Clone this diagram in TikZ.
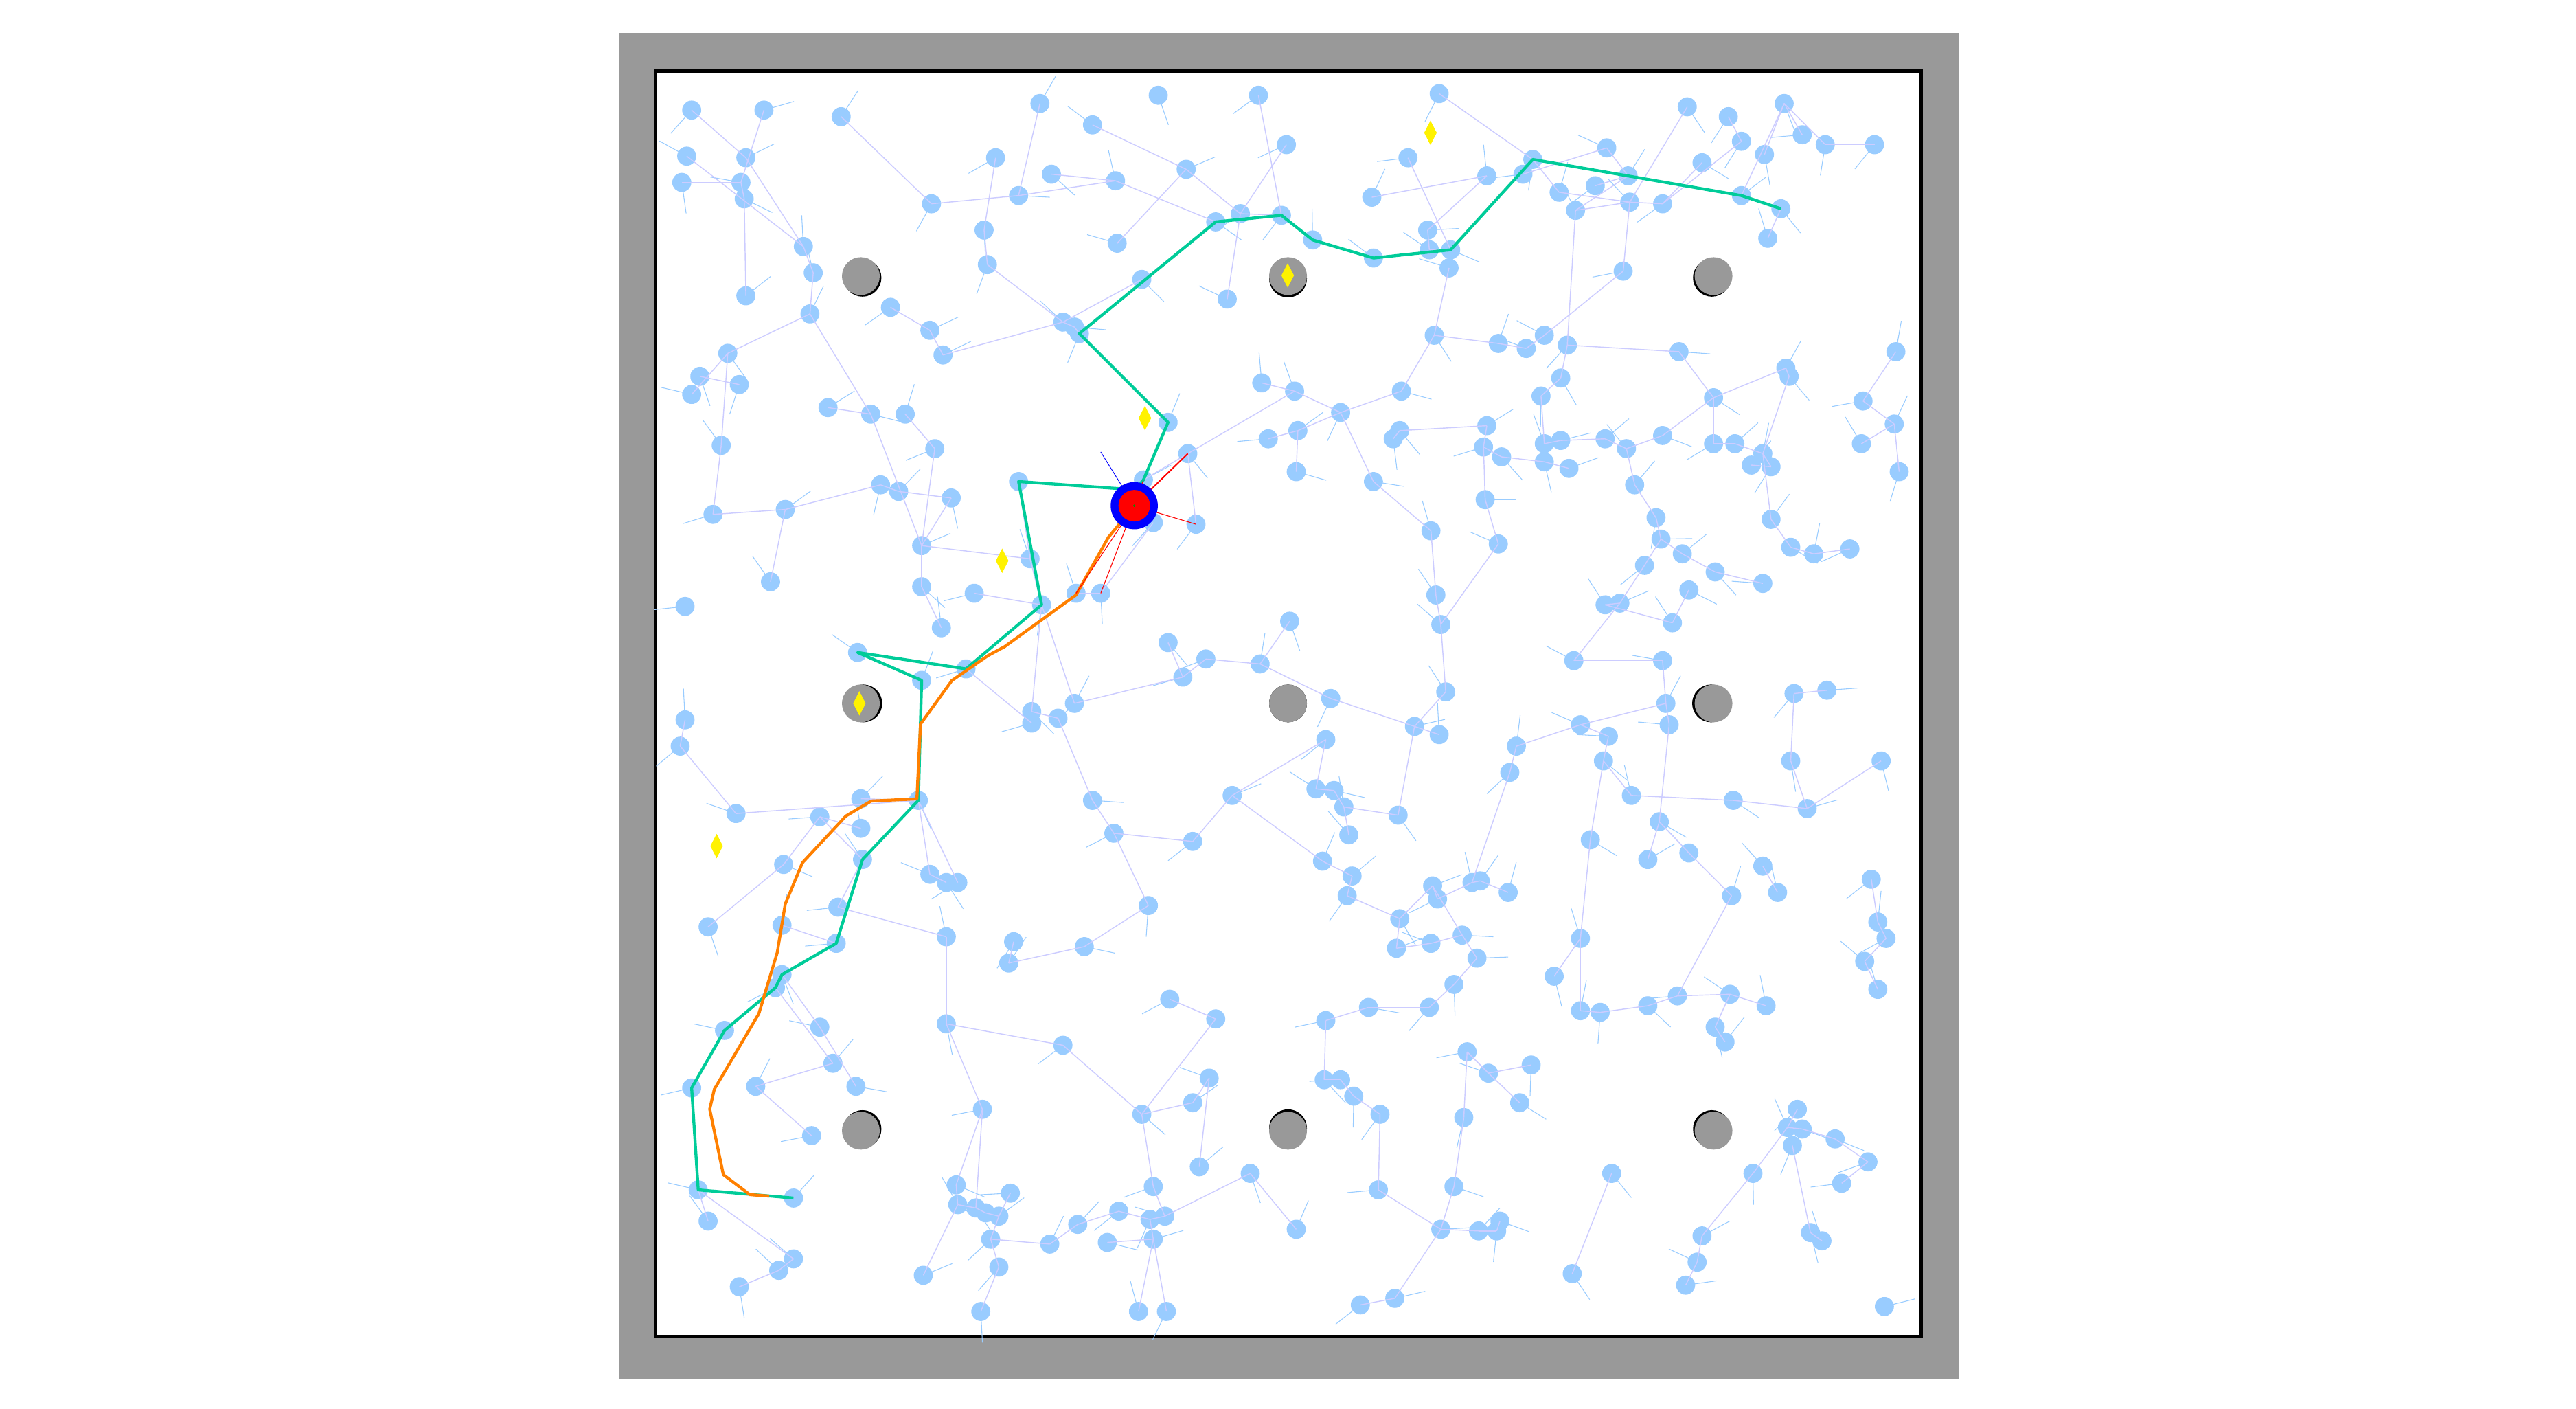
\documentclass[tikz,border=0pt]{standalone}
\usepackage{tikz}
\usetikzlibrary{shapes.geometric}
\definecolor{wall}{RGB}{153,153,153}
\definecolor{vtxblue}{RGB}{153,204,255}
\definecolor{edgelav}{RGB}{204,204,255}
\definecolor{pathgreen}{RGB}{0,204,153}
\definecolor{trajorange}{RGB}{255,128,0}

% sampled poses of the roadmap (x/y in screen units)
\newcommand\roadmapvertices{%
421/67,465/67,512/71,418/95,454/96,415/111,451/111,453/121,489/150,495/166,454/180,%
493/191,542/187,443/215,426/229,421/240,450/234,567/124,566/201,574/216,439/271,%
504/248,530/252,551/252,569/273,434/313,478/310,536/295,547/299,579/303,469/354,%
417/369,561/332,561/357,573/382,593/361,%
633/63,665/76,705/58,766/58,606/96,640/106,620/119,679/110,722/103,599/140,601/161,%
680/148,740/135,755/130,780/131,783/88,695/170,747/182,647/196,654/199,657/203,%
711/257,723/276,620/293,696/292,728/319,702/318,627/340,634/368,655/361,670/361,%
768/233,788/238,772/267,790/262,789/287,816/251,853/238,852/262,848/267,836/293,%
876/57,857/96,835/120,869/140,870/152,905/107,927/106,933/97,799/146,836/157,883/152,%
882/163,949/117,959/128,971/113,978/90,991/107,992/123,1012/124,1027/65,1052/71,%
1060/86,1036/99,1074/94,1086/63,1097/82,1111/88,1141/88,1060/119,1084/127,1076/145,%
988/165,873/204,912/209,929/212,940/204,954/210,1022/214,938/241,950/230,1043/242,%
1087/224,1089/229,1154/214,1134/244,1153/258,1133/270,1156/287,905/259,903/272,%
914/278,940/270,940/281,950/268,955/285,977/267,990/273,1012/265,1043/270,1056/270,%
1073/276,1066/283,1078/284,995/295,904/304,871/323,912/331,1008/315,1011/328,%
1024/337,1044/348,1001/344,1073/355,1078/316,1090/333,1104/337,1126/334,874/362,%
877/380,986/367,977/368,1018/379,1028/359,958/402,1012/402,%
522/397,561/414,588/407,628/433,628/440,644/437,654/428,711/391,734/401,720/412,%
767/404,785/378,810/425,880/421,861/442,876/447,417/438,414/454,559/487,524/486,%
499/497,524/504,448/495,477/526,525/523,665/487,678/507,726/512,750/484,807/450,%
801/480,812/481,818/491,851/496,821/508,923/454,919/470,962/441,979/448,976/463,%
993/484,1014/428,1016/441,1055/487,1100/492,1090/463,1092/422,1112/420,1145/463,%
1010/500,1003/523,1028/519,968/511,805/524,823/533,820/545,852/559,872/539,875/547,%
896/537,901/536,918/543,566/532,576/537,583/537,699/551,1073/527,1082/543,1054/545,%
1139/535,1143/561,1148/571,1135/585,1143/602,%
431/564,476/563,510/552,509/574,576/570,617/573,614/586,660/576,850/577,871/574,%
890/569,899/583,885/599,870/613,833/613,962/571,946/594,962/615,974/616,1003/612,%
1021/606,1053/605,1044/625,1050/634,1075/612,476/593,472/601,499/625,441/627,%
507/647,576/623,647/636,712/608,740/620,807/621,893/640,906/653,932/648,925/671,%
421/662,460/661,521/661,494/691,736/656,726/671,695/678,806/657,816/657,824/667,%
840/678,891/680,598/675,981/714,1067/714,1088/686,1094/675,1097/687,1091/697,%
1117/693,1137/707,1121/720,1102/750,1109/755,425/724,483/729,431/743,582/721,%
583/733,594/735,615/726,608/740,600/738,603/754,639/757,656/745,674/756,681/737,%
700/742,709/740,702/722,702/754,730/710,761/714,789/748,839/724,877/748,885/722,%
900/749,911/749,913/743,450/783,474/773,483/766,562/776,608/771,597/798,693/798,%
710/798,828/794,849/790,957/775,1026/782,1033/768,1036/752,1147/795}

% tree edges between poses
\newcommand\roadmapedges{%
421-67/454-96,465-67/451-111,418-95/489-150,454-96/489-150,415-111/451-111,%
451-111/453-121,453-121/454-180,489-150/495-166,495-166/493-191,512-71/567-124,%
493-191/443-215,443-215/421-240,426-229/450-234,443-215/439-271,439-271/434-313,%
434-313/478-310,478-310/536-295,536-295/547-299,547-299/579-303,493-191/530-252,%
504-248/530-252,530-252/561-332,551-252/569-273,569-273/561-332,542-187/566-201,%
566-201/574-216,574-216/647-196,567-124/620-119,469-354/478-310,417-369/417-438,%
561-332/579-303,561-332/627-340,561-332/561-357,561-357/573-382,593-361/634-368,%
633-63/620-119,665-76/722-103,705-58/766-58,766-58/780-131,606-96/599-140,%
640-106/679-110,620-119/679-110,679-110/740-135,722-103/755-130,722-103/680-148,%
783-88/755-130,755-130/780-131,755-130/747-182,599-140/601-161,601-161/647-196,%
647-196/695-170,647-196/654-199,654-199/657-203,657-203/711-257,711-257/696-292,%
696-292/723-276,723-276/728-319,702-318/670-361,655-361/670-361,620-293/627-340,%
627-340/634-368,634-368/654-428,634-368/628-433,768-233/788-238,788-238/816-251,%
772-267/790-262,790-262/816-251,789-287/790-262,816-251/853-238,853-238/873-204,%
852-262/905-259,848-267/852-262,816-251/836-293,836-293/871-323,723-276/788-238,%
876-57/933-97,857-96/883-152,905-107/835-120,905-107/869-140,869-140/870-152,%
870-152/883-152,836-157/799-146,799-146/780-131,882-163/873-204,873-204/912-209,%
912-209/929-212,929-212/940-204,940-204/988-165,954-210/959-128,933-97/949-117,%
927-106/978-90,978-90/991-107,991-107/959-128,971-113/991-107,959-128/992-123,%
949-117/992-123,992-123/1012-124,1012-124/1060-86,1012-124/1036-99,1027-65/992-123,%
1052-71/1060-86,1086-63/1060-119,1086-63/1097-82,1086-63/1111-88,1111-88/1141-88,%
1074-94/1086-63,1084-127/1076-145,1060-119/1084-127,992-123/988-165,954-210/1022-214,%
950-230/938-241,950-230/954-210,938-241/940-270,1043-242/1087-224,1087-224/1089-229,%
1089-229/1073-276,1154-214/1134-244,1134-244/1153-258,1133-270/1153-258,%
1153-258/1156-287,905-259/903-272,903-272/914-278,903-272/904-304,940-270/950-268,%
950-268/977-267,977-267/990-273,990-273/1012-265,1012-265/1043-242,1043-270/1056-270,%
1056-270/1073-276,1066-283/1078-284,1078-284/1073-276,1073-276/1078-316,%
995-295/990-273,995-295/1008-315,904-304/912-331,871-323/874-362,912-331/877-380,%
1008-315/1011-328,1011-328/1001-344,1011-328/1024-337,1024-337/1044-348,%
1078-316/1090-333,1090-333/1104-337,1104-337/1126-334,1044-348/1073-355,%
874-362/877-380,986-367/977-368,977-368/1018-379,1018-379/1028-359,1001-344/986-367,%
958-402/1012-402,958-402/986-367,955-285/940-281,940-281/914-278,1043-270/1043-242,%
1022-214/1043-242,%
522-397/561-414,588-407/628-440,628-433/644-437,644-437/665-487,654-428/720-412,%
711-391/720-412,720-412/734-401,734-401/767-404,767-404/785-378,767-404/810-425,%
810-425/861-442,861-442/880-421,861-442/876-447,880-421/877-380,417-438/414-454,%
414-454/448-495,448-495/559-487,524-486/559-487,499-497/524-504,499-497/525-523,%
499-497/477-526,477-526/431-564,525-523/510-552,559-487/583-537,559-487/566-532,%
566-532/576-537,665-487/678-507,678-507/726-512,678-507/699-551,750-484/807-450,%
750-484/726-512,750-484/805-524,801-480/812-481,812-481/818-491,818-491/851-496,%
851-496/861-442,821-508/818-491,923-454/919-470,919-470/896-537,962-441/979-448,%
979-448/976-463,962-441/923-454,976-463/993-484,993-484/1055-487,1055-487/1100-492,%
1100-492/1090-463,1090-463/1092-422,1092-422/1112-420,1014-428/1016-441,%
1016-441/1010-500,1010-500/1003-523,1010-500/1028-519,968-511/976-463,%
805-524/823-533,823-533/820-545,820-545/852-559,852-559/872-539,872-539/875-547,%
875-547/896-537,896-537/901-536,901-536/918-543,1073-527/1082-543,1054-545/1028-519,%
1139-535/1143-561,1143-561/1148-571,1135-585/1143-602,1145-463/1100-492,%
1014-428/962-441,1012-402/1014-428,807-450/801-480,1148-571/1135-585,%
476-563/509-574,510-552/576-570,576-570/576-623,617-573/614-586,614-586/660-576,%
660-576/699-551,850-577/871-574,871-574/890-569,890-569/899-583,899-583/885-599,%
885-599/870-613,870-613/833-613,833-613/807-621,850-577/852-559,962-571/946-594,%
962-571/962-615,962-615/974-616,974-616/1003-612,1003-612/1021-606,1021-606/1053-605,%
1053-605/1044-625,1044-625/1050-634,1053-605/1075-612,1021-606/1054-545,%
476-593/499-625,499-625/521-661,472-601/507-647,460-661/507-647,460-661/494-691,%
441-627/421-662,576-623/647-636,647-636/695-678,712-608/740-620,740-620/695-678,%
807-621/806-657,893-640/906-653,906-653/932-648,906-653/925-671,893-640/891-680,%
736-656/726-671,726-671/695-678,806-657/816-657,816-657/824-667,824-667/840-678,%
840-678/839-724,891-680/885-722,598-675/576-623,598-675/582-721,598-675/594-735,%
981-714/957-775,1067-714/1088-686,1088-686/1094-675,1088-686/1097-687,%
1097-687/1117-693,1117-693/1137-707,1137-707/1121-720,1091-697/1102-750,%
1102-750/1109-755,425-724/431-743,425-724/483-766,582-721/583-733,583-733/594-735,%
594-735/600-738,600-738/608-740,615-726/608-740,608-740/603-754,603-754/608-771,%
639-757/656-745,656-745/681-737,681-737/700-742,700-742/709-740,709-740/702-722,%
702-722/695-678,702-754/700-742,674-756/702-754,709-740/761-714,730-710/736-656,%
761-714/789-748,839-724/877-748,877-748/900-749,900-749/911-749,911-749/913-743,%
885-722/877-748,450-783/474-773,474-773/483-766,562-776/583-733,608-771/597-798,%
693-798/702-754,710-798/702-754,828-794/849-790,849-790/877-748,1026-782/1033-768,%
1033-768/1036-752,1036-752/1067-714,639-757/603-754,890-569/872-539,962-571/968-511,%
425-724/483-729,421-662/425-724}

\begin{document}
\begin{tikzpicture}[x=1pt, y=-1pt,
    vtx/.style={circle, fill=vtxblue, inner sep=0pt, minimum size=11.6pt},
    heading/.style={vtxblue, line width=0.45pt},
    edge/.style={edgelav, line width=0.6pt},
    obstacle/.style={circle, fill=wall, inner sep=0pt, minimum size=23pt},
    goal/.style={diamond, fill=yellow, inner sep=0pt, minimum width=7.8pt, minimum height=15pt},
    route/.style={pathgreen, line width=1.8pt, line join=round},
    traj/.style={trajorange, line width=1.8pt, line join=round}]

  \useasboundingbox (0,0) rectangle (1568,857);

  % arena: grey wall and white floor
  \fill[wall] (376.7,19.9) rectangle (1192.2,839.3);
  \draw[fill=white, line width=1.9pt] (398.8,43.2) rectangle (1169.4,813.5);

  % roadmap poses with their heading
  \foreach \x/\y in \roadmapvertices {
    \pgfmathsetmacro\ang{mod(\x*13,360)+mod(\y*17,360)}
    \draw[heading] (\x,\y) -- ++(\ang:19);
    \node[vtx] (v\x-\y) at (\x,\y) {};
  }
  \foreach \a/\b in \roadmapedges
    \draw[edge] (v\a.center) -- (v\b.center);

  % pillars
  \foreach \ox/\oy/\dx/\dy in {524/168/1/1,784/168/0/1.5,1043/168/-1/1,%
      524/428/1.5/0,784/428/0/0,1043/428/-1.5/0,%
      524/688/1/-1,784/688/0/-1.5,1043/688/-1/-1} {
    \fill[black] (\ox+\dx,\oy+\dy) circle (11.5);
    \node[obstacle] (pillar\ox-\oy) at (\ox,\oy) {};
  }

  % waypoints
  \foreach \k in {0,...,5}
    \node[goal] (goal\k) at ({870.7-86.9*\k},{80.8+86.8*\k}) {};

  \coordinate (robotc) at (690.4,307.7);
  \coordinate (pathjoin) at (691,298);
  \coordinate (trajend) at (468.2,727.8);
  \coordinate (scanend) at (670,275);

  % planned route
  \draw[route] (v1084-127.center) -- (v1060-119.center) -- (v933-97.center)
    -- (v883-152.center) -- (v836-157.center) -- (v799-146.center)
    -- (v780-131.center) -- (v740-135.center) -- (v657-203.center)
    -- (v711-257.center) -- (v696-292.center) -- (pathjoin)
    -- (v620-293.center) -- (v634-368.center) -- (v588-407.center)
    -- (v522-397.center) -- (v561-414.center) -- (v559-487.center)
    -- (v525-523.center) -- (v509-574.center) -- (v476-593.center)
    -- (v472-601.center) -- (v441-627.center) -- (v421-662.center)
    -- (v425-724.center) -- (v483-729.center);

  % executed trajectory
  \draw[traj] (robotc) -- (681.3,318.9) -- (674.7,326.9) -- (654.9,362.1)
    -- (611.6,393.4) -- (601.4,398.9) -- (579.4,414.1) -- (560.3,440.6)
    -- (558.1,486.1) -- (530.3,487.4) -- (514.9,496.5) -- (488.4,525)
    -- (478,550) -- (473.1,579.6) -- (461.9,616.8) -- (434.8,662.8)
    -- (432,674.9) -- (440.3,714.8) -- (456.4,726.9) -- (trajend);

  % robot and its local links
  \draw[blue, line width=0.4pt] (robotc) -- (scanend);
  \foreach \t/\w in {723-276/0.85,728-319/0.45,670-361/0.45,655-361/0.45,696-292/0.45}
    \draw[red, line width=\w pt] (robotc) -- (v\t.center);
  \node[circle, fill=blue, inner sep=0pt, minimum size=28.7pt] (robot) at (robotc) {};
  \node[circle, fill=red, inner sep=0pt, minimum size=19.2pt] (robotcore) at (robotc) {};
  \node[circle, fill=green!60!black, inner sep=0pt, minimum size=1.5pt] (robotmark) at (robotc) {};
\end{tikzpicture}
\end{document}
